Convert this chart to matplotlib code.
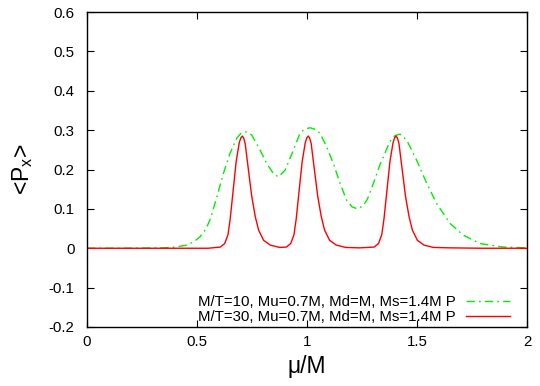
import matplotlib
matplotlib.use("Agg")
import matplotlib.pyplot as plt

plt.rcParams['font.family'] = ['Liberation Sans', 'DejaVu Sans']
plt.rcParams['mathtext.fontset'] = 'custom'
plt.rcParams['mathtext.rm'] = 'Liberation Sans'
plt.rcParams['mathtext.it'] = 'Liberation Sans:italic'

# M/T=10 curve (green, dash-dot)
green_x = [0, 0.2, 0.35, 0.40, 0.455, 0.49, 0.515, 0.54, 0.561, 0.589,
           0.620, 0.650, 0.680, 0.700, 0.720, 0.748, 0.779, 0.817, 0.847, 0.870,
           0.900, 0.938, 0.968, 0.990, 1.014, 1.037, 1.059, 1.089, 1.120, 1.150,
           1.180, 1.205, 1.230, 1.255, 1.275, 1.302, 1.332, 1.377, 1.400, 1.422,
           1.453, 1.498, 1.544, 1.589, 1.650, 1.711, 1.786, 1.892, 2.0]
green_y = [0, 0.0, 0.001, 0.003, 0.008, 0.018, 0.030, 0.048, 0.075, 0.128,
           0.190, 0.241, 0.279, 0.292, 0.296, 0.288, 0.258, 0.215, 0.190, 0.181,
           0.198, 0.249, 0.292, 0.303, 0.306, 0.302, 0.292, 0.258, 0.215, 0.165,
           0.122, 0.105, 0.100, 0.108, 0.125, 0.165, 0.213, 0.271, 0.286, 0.290,
           0.275, 0.224, 0.165, 0.114, 0.063, 0.033, 0.012, 0.003, 0.001]

# M/T=30 curve (red, solid)
red_x = [0, 0.3, 0.55,
         0.606, 0.626, 0.641, 0.651, 0.664, 0.678, 0.692, 0.699, 0.706, 0.712, 0.719,
         0.734, 0.749, 0.765, 0.780, 0.803, 0.833, 0.876,
         0.906, 0.926, 0.941, 0.951, 0.964, 0.978, 0.992, 0.999, 1.006, 1.012, 1.019,
         1.034, 1.049, 1.065, 1.080, 1.103, 1.133, 1.176, 1.24,
         1.305, 1.325, 1.340, 1.350, 1.363, 1.377, 1.391, 1.398, 1.405, 1.411, 1.418,
         1.433, 1.448, 1.464, 1.479, 1.502, 1.532, 1.575, 1.65, 1.8, 2.0]
red_y = [0, 0, 0.0,
         0.003, 0.012, 0.035, 0.075, 0.145, 0.220, 0.268, 0.280, 0.285, 0.280, 0.266,
         0.198, 0.131, 0.080, 0.046, 0.020, 0.008, 0.002,
         0.003, 0.012, 0.035, 0.075, 0.145, 0.220, 0.268, 0.280, 0.285, 0.280, 0.266,
         0.198, 0.131, 0.080, 0.046, 0.020, 0.008, 0.002, 0.001,
         0.003, 0.012, 0.035, 0.075, 0.145, 0.220, 0.268, 0.280, 0.285, 0.280, 0.266,
         0.198, 0.131, 0.080, 0.046, 0.020, 0.008, 0.002, 0.001, 0.0, 0.0]

label_green = "M/T=10, Mu=0.7M, Md=M, Ms=1.4M P"
label_red = "M/T=30, Mu=0.7M, Md=M, Ms=1.4M P"
x_ticks = [0, 0.5, 1, 1.5, 2]
x_tick_labels = ["0", "0.5", "1", "1.5", "2"]
y_ticks = [-0.2, -0.1, 0, 0.1, 0.2, 0.3, 0.4, 0.5, 0.6]
y_tick_labels = ["-0.2", "-0.1", "0", "0.1", "0.2", "0.3", "0.4", "0.5", "0.6"]

fig = plt.figure(figsize=(5.4, 3.86), dpi=100)
ax = fig.add_axes([87/540, 1-327/386, 440/540, 315/386])

ax.plot(green_x, green_y, color='#00ee00', lw=1.0, dashes=(6, 3, 1.2, 3),
        label=label_green)
ax.plot(red_x, red_y, color='#ff0000', lw=1.0, label=label_red)

ax.set_xlim(0, 2)
ax.set_ylim(-0.2, 0.6)
ax.set_xticks(x_ticks)
ax.set_xticklabels(x_tick_labels)
ax.set_yticks(y_ticks)
ax.set_yticklabels(y_tick_labels)
ax.tick_params(direction='in', length=5, width=0.8, top=True, right=True,
               labelsize=10.8, colors='black')
ax.tick_params(axis='y', pad=9)
ax.tick_params(axis='x', pad=6)
for s in ax.spines.values():
    s.set_linewidth(1.0)

ax.set_xlabel("μ/M", fontsize=16.5, labelpad=4)
ax.set_ylabel("<P$_{\\mathrm{x}}$>", fontsize=16.5, labelpad=10)

leg = ax.legend(loc='lower right', markerfirst=False, frameon=False,
                fontsize=10.8, handlelength=2.9, handletextpad=0.7,
                labelspacing=0.05, borderaxespad=0.0, borderpad=0.2,
                bbox_to_anchor=(0.968, 0.0))

fig.savefig("out.png", dpi=100)
